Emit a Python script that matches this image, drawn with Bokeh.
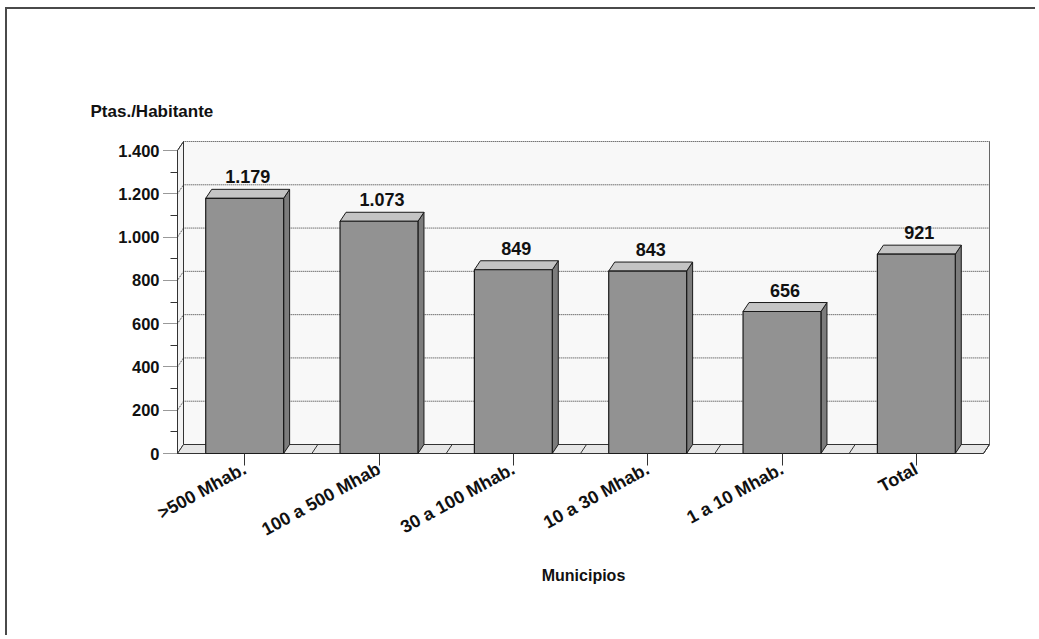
from bokeh.plotting import figure
from bokeh.models import Range1d, LinearAxis, FixedTicker
from bokeh.embed import file_html
from bokeh.resources import INLINE
from bokeh.core.properties import value

# ---- data ----
categories = [">500 Mhab.", "100 a 500 Mhab", "30 a 100 Mhab.", "10 a 30 Mhab.", "1 a 10 Mhab.", "Total"]
values = [1179, 1073, 849, 843, 656, 921]
value_labels = ["1.179", "1.073", "849", "843", "656", "921"]
y_ticks = [0, 200, 400, 600, 800, 1000, 1200, 1400]
y_tick_labels = ["0", "200", "400", "600", "800", "1.000", "1.200", "1.400"]
y_minor = [100, 300, 500, 700, 900, 1100, 1300]
y_title = "Ptas./Habitante"
x_title = "Municipios"

# ---- geometry (pixel scale of the plot) ----
n = len(categories)
xc = list(range(n))
X0, X1 = -0.5, n - 0.5
YMAX = y_ticks[-1]
PX = 806 / 6.0        # px per category
PY = 303 / 1400.0     # px per unit
DX = 6 / PX           # depth offset in x
DY = 9 / PY           # depth offset in y
BW = 0.58
FONT = "Liberation Sans"

p = figure(width=1030, height=628, output_backend="svg", toolbar_location=None,
           x_range=Range1d(X0 - 2 / PX, X1 + 8 / PX),
           y_range=Range1d(-2 / PY, YMAX + 12 / PY),
           x_axis_type=None, y_axis_type=None,
           min_border_left=168, min_border_right=46,
           min_border_top=129, min_border_bottom=182)
p.outline_line_color = None
p.background_fill_color = "white"
p.border_fill_color = "white"
p.styles = {"margin-left": "5px", "margin-top": "7px",
            "border-left": "2px solid #4a4a4a", "border-top": "2px solid #4a4a4a"}

# title used as the y-axis caption above the plot
p.title.text = y_title
p.title.align = "left"
p.title.offset = 90 - 175
p.title.standoff = 36
p.title.text_font = FONT
p.title.text_font_style = "bold"
p.title.text_font_size = "17px"
p.title.text_color = "#111111"

# ---- axes ----
yaxis = LinearAxis(ticker=FixedTicker(ticks=y_ticks, minor_ticks=y_minor))
yaxis.major_label_overrides = dict(zip(y_ticks, y_tick_labels))
yaxis.axis_line_color = None
yaxis.major_tick_out = 12
yaxis.major_tick_in = 2
yaxis.major_tick_line_dash = "1 1"
yaxis.major_tick_line_color = "#333333"
yaxis.minor_tick_out = 5
yaxis.minor_tick_in = 2
yaxis.minor_tick_line_color = "#333333"
yaxis.major_label_standoff = 4
yaxis.major_label_text_font = FONT
yaxis.major_label_text_font_style = "bold"
yaxis.major_label_text_font_size = "16.5px"
yaxis.major_label_text_color = "#111111"
p.add_layout(yaxis, "left")

xaxis = LinearAxis(ticker=FixedTicker(ticks=xc, minor_ticks=[]))
xaxis.major_label_overrides = dict(zip(xc, categories))
xaxis.axis_line_color = None
xaxis.major_tick_out = 10
xaxis.major_tick_in = 2
xaxis.major_tick_line_color = "#333333"
xaxis.minor_tick_line_color = None
xaxis.major_label_orientation = 0.5
xaxis.major_label_standoff = 2
xaxis.major_label_text_font = FONT
xaxis.major_label_text_font_style = "bold"
xaxis.major_label_text_font_size = "18px"
xaxis.major_label_text_color = "#111111"
xaxis.axis_label = x_title
xaxis.axis_label_text_font = FONT
xaxis.axis_label_text_font_style = "bold"
xaxis.axis_label_text_font_size = "16px"
xaxis.axis_label_text_color = "#111111"
xaxis.axis_label_standoff = 16
p.add_layout(xaxis, "below")

# ---- 3D box: back wall, side wall, floor ----
wx0, wx1 = X0 + DX, X1 + DX
p.quad(left=[wx0], right=[wx1], bottom=[DY], top=[YMAX + DY],
       fill_color="#f8f8f8", line_color=None)
p.patch([X0, wx0, wx0, X0], [0, DY, YMAX + DY, YMAX],
        fill_color="#f3f3f3", line_color="#333333", line_width=1)
p.patch([X0, X1, wx1, wx0], [0, 0, DY, DY],
        fill_color="#e6e6e6", line_color="#333333", line_width=1)

# gridlines on side wall + back wall
grid_xs = [[X0, wx0, wx1] for t in y_ticks[1:]]
grid_ys = [[t, t + DY, t + DY] for t in y_ticks[1:]]
p.multi_line(xs=grid_xs, ys=grid_ys, line_color="#333333", line_width=1, line_dash="1 1")
# wall right edge
p.segment(x0=[wx1], y0=[DY], x1=[wx1], y1=[YMAX + DY], line_color="#666666", line_width=1)
# front axis line
p.segment(x0=[X0], y0=[0], x1=[X0], y1=[YMAX], line_color="#333333", line_width=1)
# floor dividers
bounds = [c + 0.5 for c in xc]
p.segment(x0=bounds, y0=[0] * n, x1=[b + DX for b in bounds], y1=[DY] * n,
          line_color="#333333", line_width=1)

# ---- bars ----
lefts = [c - BW / 2 for c in xc]
rights = [c + BW / 2 for c in xc]
p.patches(xs=[[r, r + DX, r + DX, r] for r in rights],
          ys=[[0, DY, v + DY, v] for v in values],
          fill_color="#7c7c7c", line_color="#1a1a1a", line_width=1)
p.patches(xs=[[l, r, r + DX, l + DX] for l, r in zip(lefts, rights)],
          ys=[[v, v, v + DY, v + DY] for v in values],
          fill_color="#c4c4c4", line_color="#1a1a1a", line_width=1)
p.quad(left=lefts, right=rights, bottom=[0] * n, top=values,
       fill_color="#929292", line_color="#1a1a1a", line_width=1.2)

# value labels
p.text(x=[c + DX / 2 for c in xc], y=[v + DY + 6 / PY for v in values], text=value_labels,
       text_align="center", text_baseline="bottom",
       text_font=value(FONT), text_font_style="bold", text_font_size="18px",
       text_color="#111111")

open("out.html", "w").write(file_html(p, INLINE))
